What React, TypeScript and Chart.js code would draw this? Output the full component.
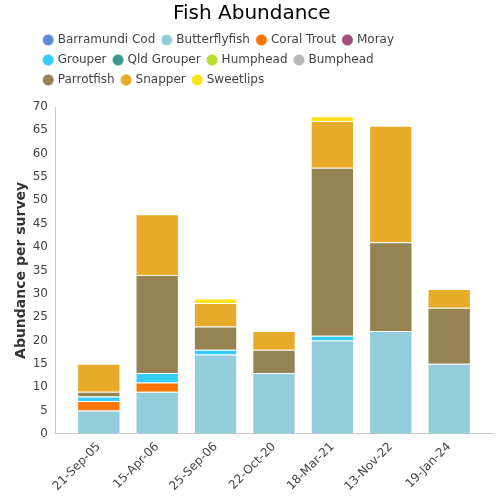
import React, { useEffect, useRef } from "react";
import { Chart, registerables } from "chart.js";

Chart.register(...registerables);

const categories = ["21-Sep-05", "15-Apr-06", "25-Sep-06", "22-Oct-20", "18-Mar-21", "13-Nov-22", "19-Jan-24"];
const barramundiCod = [0, 0, 0, 0, 0, 0, 0];
const butterflyfish = [5, 9, 17, 13, 20, 22, 15];
const coralTrout = [2, 2, 0, 0, 0, 0, 0];
const moray = [0, 0, 0, 0, 0, 0, 0];
const grouper = [1, 2, 1, 0, 1, 0, 0];
const qldGrouper = [0, 0, 0, 0, 0, 0, 0];
const humphead = [0, 0, 0, 0, 0, 0, 0];
const bumphead = [0, 0, 0, 0, 0, 0, 0];
const parrotfish = [1, 21, 5, 5, 36, 19, 12];
const snapper = [6, 13, 5, 4, 10, 25, 4];
const sweetlips = [0, 0, 1, 0, 1, 0, 0];

const seriesNames = ["Barramundi Cod", "Butterflyfish", "Coral Trout", "Moray", "Grouper", "Qld Grouper", "Humphead", "Bumphead", "Parrotfish", "Snapper", "Sweetlips"];
const seriesValues = [barramundiCod, butterflyfish, coralTrout, moray, grouper, qldGrouper, humphead, bumphead, parrotfish, snapper, sweetlips];
const seriesColors = ["#5A8ED8", "#93CDDC", "#FF7400", "#A5517E", "#35CCFF", "#3A9A90", "#B6DE2C", "#B8B8B8", "#958353", "#E8AB29", "#FFE11A"];

const LEGEND_LEFT = 36.7;
const LEGEND_WIDTH = 400;
const LEGEND_EXTRA = 11;

const legendWrapPlugin = {
  id: "legendWrap",
  beforeLayout(chart: any) {
    const legend = chart.legend;
    if (legend && !legend.__patched) {
      const orig = legend.update.bind(legend);
      legend.update = (mw: number, mh: number, m: any) => {
        orig(Math.min(mw, LEGEND_WIDTH), mh, m);
        legend.height += LEGEND_EXTRA;
      };
      legend.__patched = true;
    }
  },
  afterLayout(chart: any) {
    const legend = chart.legend;
    if (legend) {
      legend.left = LEGEND_LEFT;
      legend.width = LEGEND_WIDTH;
      legend.right = LEGEND_LEFT + LEGEND_WIDTH;
    }
  },
};

export default function App() {
  const ref = useRef<HTMLCanvasElement>(null);
  useEffect(() => {
    document.body.style.margin = "0";
    const ctx = ref.current!;
    const chart = new Chart(ctx, {
      type: "bar",
      data: {
        labels: categories.map((_, i) => i),
        datasets: seriesNames.map((name, i) => ({
          label: name,
          data: seriesValues[i],
          backgroundColor: seriesColors[i],
          borderColor: "rgba(255,255,255,0.3)",
          borderWidth: 1,
          categoryPercentage: 0.825,
          barPercentage: 0.9,
        })),
      },
      plugins: [legendWrapPlugin],
      options: {
        responsive: false,
        animation: false,
        layout: { padding: { left: 10.6, right: 7, top: 0, bottom: 0 } },
        plugins: {
          title: {
            display: true,
            text: "Fish Abundance",
            color: "#000",
            font: { family: "DejaVu Sans", size: 20, weight: "normal" },
            padding: { top: 2, bottom: 0 },
          },
          legend: {
            display: true,
            position: "top",
            align: "start",
            labels: {
              usePointStyle: true,
              pointStyle: "circle",
              boxWidth: 7,
              boxHeight: 8,
              padding: 8,
              color: "#444",
              font: { family: "DejaVu Sans", size: 12 },
            },
          },
          tooltip: { enabled: false },
        },
        scales: {
          x: {
            type: "linear",
            stacked: true,
            offset: false,
            min: -0.75,
            max: 6.75,
            grid: { display: false, drawTicks: false, offset: false },
            border: { color: "#c8c8c8", width: 1 },
            afterBuildTicks: (scale: any) => {
              scale.ticks = categories.map((_, i) => ({ value: i }));
            },
            afterFit: (scale: any) => {
              scale.paddingLeft = 0;
            },
            ticks: {
              autoSkip: false,
              color: "#444",
              font: { family: "DejaVu Sans", size: 12 },
              maxRotation: 45,
              minRotation: 45,
              padding: 6,
              callback: (v: any) => categories[Math.round(Number(v))] ?? "",
            },
          },
          y: {
            stacked: true,
            min: 0,
            max: 70,
            grid: { display: false, drawTicks: false },
            border: { color: "#c8c8c8", width: 1 },
            afterFit: (scale: any) => {
              scale.width = 44.4;
            },
            ticks: {
              stepSize: 5,
              color: "#444",
              font: { family: "DejaVu Sans", size: 12 },
              padding: 7,
            },
            title: {
              display: true,
              text: "Abundance per survey",
              color: "#333",
              font: { family: "DejaVu Sans", size: 14, weight: "bold" },
              padding: { top: 2, bottom: 2 },
            },
          },
        },
      },
    });
    return () => chart.destroy();
  }, []);
  return <canvas ref={ref} width={500} height={500} style={{ display: "block" }} />;
}
